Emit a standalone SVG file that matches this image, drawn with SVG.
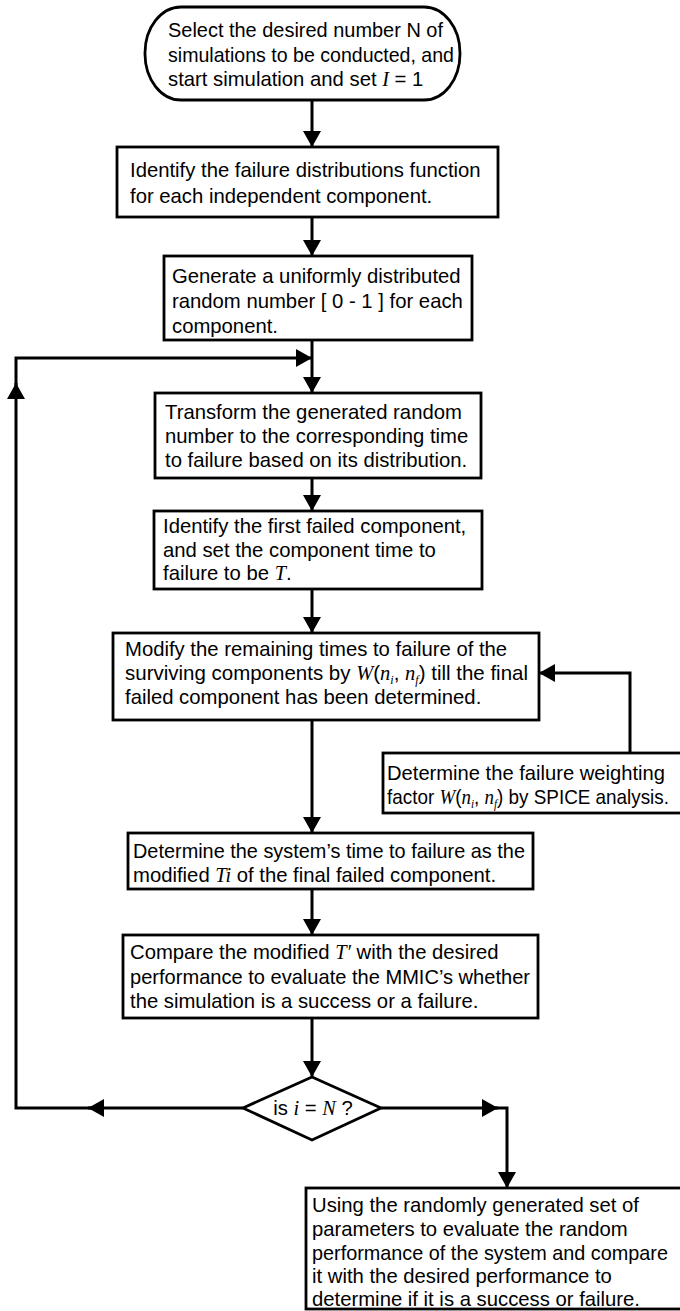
<svg xmlns="http://www.w3.org/2000/svg" width="680" height="1311" viewBox="0 0 680 1311">
<style>
.box{fill:#fff;stroke:#000;stroke-width:2.8}
.ln{fill:none;stroke:#000;stroke-width:3}
text{font-family:"Liberation Sans",Arial,sans-serif;font-size:20.3px;fill:#000}
.m{font-family:"Liberation Serif","Times New Roman",serif;font-style:italic}
.s{font-family:"Liberation Serif","Times New Roman",serif;font-style:italic;font-size:12px}
</style>
<defs>
<marker id="ah" markerUnits="userSpaceOnUse" markerWidth="18" markerHeight="18" refX="16" refY="9" orient="auto" viewBox="0 0 18 18">
<path d="M0,0 L16,9 L0,18 z" fill="#000"/>
</marker>
</defs>
<g id="connectors">
<path class="ln" d="M312,100 V147" marker-end="url(#ah)"/>
<path class="ln" d="M312,217 V256" marker-end="url(#ah)"/>
<path class="ln" d="M312,340 V393" marker-end="url(#ah)"/>
<path class="ln" d="M312,478 V511" marker-end="url(#ah)"/>
<path class="ln" d="M312,589 V633" marker-end="url(#ah)"/>
<path class="ln" d="M312,720 V833" marker-end="url(#ah)"/>
<path class="ln" d="M312,889 V935" marker-end="url(#ah)"/>
<path class="ln" d="M312,1018 V1077" marker-end="url(#ah)"/>
<path class="ln" d="M630,753 V673 H539" marker-end="url(#ah)"/>
<path class="ln" d="M243,1108 H88" marker-end="url(#ah)"/>
<path class="ln" d="M95,1108 H16 V383" marker-end="url(#ah)"/>
<path class="ln" d="M16,390 V358 H312" marker-end="url(#ah)"/>
<path class="ln" d="M381,1108 H498" marker-end="url(#ah)"/>
<path class="ln" d="M492,1108 H507 V1188" marker-end="url(#ah)"/>
</g>
<g id="start">
<rect class="box" x="145" y="7" width="315" height="93" rx="36" ry="46"/>
<text x="168" y="37" textLength="275" lengthAdjust="spacingAndGlyphs">Select the desired number N of</text>
<text x="168" y="62" textLength="286" lengthAdjust="spacingAndGlyphs">simulations to be conducted, and</text>
<text x="168" y="86">start simulation and set <tspan class="m">I</tspan> = 1</text>
</g>
<g id="identify-distributions">
<rect class="box" x="117" y="147" width="381" height="70"/>
<text x="130" y="177">Identify the failure distributions function</text>
<text x="130" y="203">for each independent component.</text>
</g>
<g id="generate">
<rect class="box" x="164" y="256" width="308" height="84"/>
<text x="172" y="283">Generate a uniformly distributed</text>
<text x="172" y="308">random number [ 0 - 1 ] for each</text>
<text x="172" y="333">component.</text>
</g>
<g id="transform">
<rect class="box" x="155" y="393" width="326" height="85"/>
<text x="165" y="419">Transform the generated random</text>
<text x="165" y="443">number to the corresponding time</text>
<text x="165" y="467">to failure based on its distribution.</text>
</g>
<g id="first-failed">
<rect class="box" x="154" y="511" width="328" height="78"/>
<text x="163" y="533">Identify the first failed component,</text>
<text x="163" y="557">and set the component time to</text>
<text x="163" y="580">failure to be <tspan class="m">T</tspan>.</text>
</g>
<g id="modify">
<rect class="box" x="113" y="633" width="426" height="87"/>
<text x="125" y="656">Modify the remaining times to failure of the</text>
<text x="125" y="680" textLength="403" lengthAdjust="spacingAndGlyphs">surviving components by <tspan class="m">W</tspan>(<tspan class="m">n</tspan><tspan class="s" dy="4">i</tspan><tspan dy="-4">, </tspan><tspan class="m">n</tspan><tspan class="s" dy="4">f</tspan><tspan dy="-4">) till the final</tspan></text>
<text x="125" y="704">failed component has been determined.</text>
</g>
<g id="weighting">
<rect class="box" x="383" y="753" width="310" height="60"/>
<text x="387" y="780" textLength="278" lengthAdjust="spacingAndGlyphs">Determine the failure weighting</text>
<text x="387" y="804" textLength="282" lengthAdjust="spacingAndGlyphs">factor <tspan class="m">W</tspan>(<tspan class="m">n</tspan><tspan class="s" dy="4">i</tspan><tspan dy="-4">, </tspan><tspan class="m">n</tspan><tspan class="s" dy="4">f</tspan><tspan dy="-4">) by SPICE analysis.</tspan></text>
</g>
<g id="system-time">
<rect class="box" x="128" y="833" width="405" height="56"/>
<text x="133" y="858" textLength="392" lengthAdjust="spacingAndGlyphs">Determine the system’s time to failure as the</text>
<text x="133" y="882">modified <tspan class="m">Ti</tspan> of the final failed component.</text>
</g>
<g id="compare">
<rect class="box" x="123" y="935" width="415" height="83"/>
<text x="130" y="959">Compare the modified <tspan class="m">T′</tspan> with the desired</text>
<text x="130" y="984" textLength="400" lengthAdjust="spacingAndGlyphs">performance to evaluate the MMIC’s whether</text>
<text x="130" y="1008">the simulation is a success or a failure.</text>
</g>
<g id="decision">
<polygon class="box" points="312,1077 381,1108 312,1140 243,1108"/>
<text x="313" y="1115" text-anchor="middle">is <tspan class="m">i</tspan> = <tspan class="m">N</tspan> ?</text>
</g>
<g id="evaluate">
<rect class="box" x="306" y="1188" width="390" height="121"/>
<text x="312" y="1212">Using the randomly generated set of</text>
<text x="312" y="1236">parameters to evaluate the random</text>
<text x="312" y="1260" textLength="356" lengthAdjust="spacingAndGlyphs">performance of the system and compare</text>
<text x="312" y="1283">it with the desired performance to</text>
<text x="312" y="1306">determine if it is a success or failure.</text>
</g>
</svg>
